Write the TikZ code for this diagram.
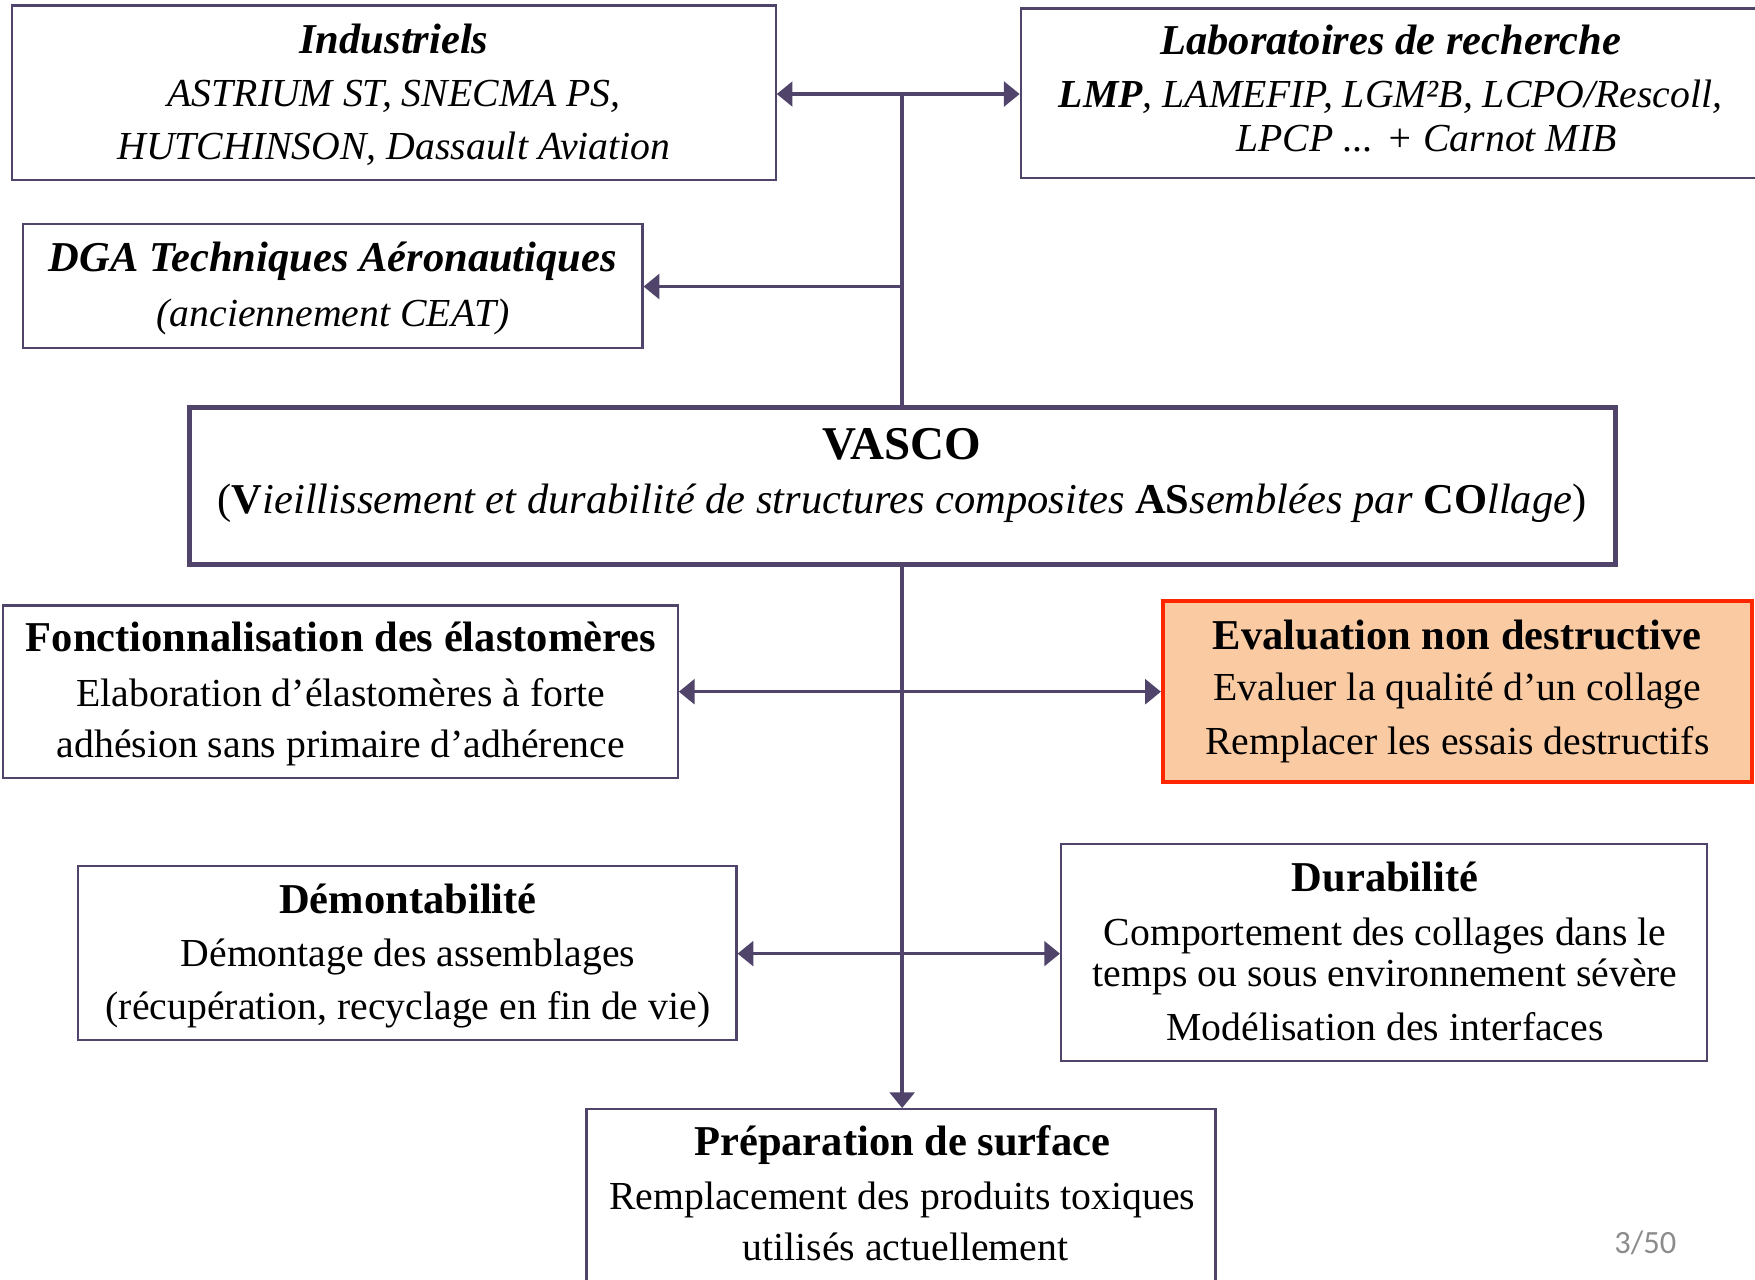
\documentclass[tikz,border=0pt]{standalone}
\usepackage{fontspec}
\setmainfont{Liberation Serif}
\newfontfamily\pagefont{Carlito}
\usetikzlibrary{arrows.meta}
\definecolor{linec}{HTML}{51446A}
\definecolor{evalred}{HTML}{FF2600}
\definecolor{evalfill}{HTML}{FACBA3}
\definecolor{pagegray}{HTML}{8C8C8C}
\newcommand{\ttlfont}{\fontsize{38}{45}\selectfont\bfseries}
\newcommand{\bodyfont}{\fontsize{35.5}{42}\selectfont}
\tikzset{
  box/.style={draw=linec, line width=2pt, inner sep=0pt, rectangle},
  mainbox/.style={draw=linec, line width=4.5pt, inner sep=0pt, rectangle},
  evalbox/.style={draw=evalred, fill=evalfill, line width=3.6pt, inner sep=0pt, rectangle},
  conn/.style={draw=linec, line width=3pt, -{Triangle[length=14pt,width=22pt]}},
  trunk/.style={draw=linec, line width=3pt},
  ttl/.style={anchor=base, inner sep=0pt, font=\ttlfont},
  ttlit/.style={anchor=base, inner sep=0pt, font=\ttlfont\itshape},
  txt/.style={anchor=base, inner sep=0pt, font=\bodyfont},
  txtit/.style={anchor=base, inner sep=0pt, font=\bodyfont\itshape},
}
\begin{document}
\begin{tikzpicture}[x=1pt,y=-1pt]
\useasboundingbox[fill=white] (0,0) rectangle (1568,1143);
% boxes
\node[box, minimum width=682pt, minimum height=156pt] (ind) at (352,83) {};
\node[box, minimum width=664pt, minimum height=151.5pt] (lab) at (1244,83.25) {};
\node[box, minimum width=553.5pt, minimum height=111pt] (dga) at (297.25,255.5) {};
\node[mainbox, minimum width=1274pt, minimum height=140pt] (vasco) at (806,434) {};
\node[box, minimum width=602.5pt, minimum height=154pt] (fonct) at (304.25,618) {};
\node[evalbox, minimum width=526pt, minimum height=162pt] (eval) at (1302,618) {};
\node[box, minimum width=588pt, minimum height=155pt] (demont) at (364,851.5) {};
\node[box, minimum width=577pt, minimum height=194pt] (durab) at (1236.5,851) {};
\node[box, minimum width=562pt, minimum height=169pt] (prep) at (805,1075.5) {};
% texts
\node[ttlit] (ind1) at (352,47.7) {Industriels};
\node[txtit] (ind2) at (352,95.3) {ASTRIUM ST, SNECMA PS,};
\node[txtit] (ind3) at (352,142.4) {HUTCHINSON, Dassault Aviation};
\node[ttlit] (lab1) at (1242.5,49) {Laboratoires de recherche};
\node[txtit] (lab2) at (1242.5,95.9) {\textbf{LMP}, LAMEFIP, LGM²B, LCPO/Rescoll,};
\node[txtit] (lab3) at (1274.5,135.5) {LPCP ... + Carnot MIB};
\node[ttlit] (dga1) at (297.5,242.7) {DGA Techniques Aéronautiques};
\node[txtit] (dga2) at (297.5,291.8) {(anciennement CEAT)};
\node[ttl, font=\fontsize{42}{48}\selectfont\bfseries] (vas1) at (806,410.4) {VASCO};
\node[txt, font=\fontsize{38}{45}\selectfont] (vas2) at (806,458.6) {(\textbf{V}\textit{ieillissement et durabilité de structures composites }\textbf{AS}\textit{semblées par }\textbf{CO}\textit{llage})};
\node[ttl] (fon1) at (304.5,582.2) {Fonctionnalisation des élastomères};
\node[txt] (fon2) at (304.5,630.8) {Elaboration d’élastomères à forte};
\node[txt] (fon3) at (304.5,676.9) {adhésion sans primaire d’adhérence};
\node[ttl] (eva1) at (1302,580.7) {Evaluation non destructive};
\node[txt] (eva2) at (1302,626) {Evaluer la qualité d’un collage};
\node[txt] (eva3) at (1302,674.5) {Remplacer les essais destructifs};
\node[ttl] (dem1) at (364.5,816) {Démontabilité};
\node[txt] (dem2) at (364.5,863.6) {Démontage des assemblages};
\node[txt] (dem3) at (364.5,911.3) {(récupération, recyclage en fin de vie)};
\node[ttl] (dur1) at (1237.5,796.6) {Durabilité};
\node[txt] (dur2) at (1237.5,844.3) {Comportement des collages dans le};
\node[txt] (dur3) at (1237.5,881.5) {temps ou sous environnement sévère};
\node[txt] (dur4) at (1237.5,929.2) {Modélisation des interfaces};
\node[ttl] (pre1) at (806,1032.8) {Préparation de surface};
\node[txt] (pre2) at (806,1080.4) {Remplacement des produits toxiques};
\node[txt] (pre3) at (809,1126.3) {utilisés actuellement};
\node[anchor=base, inner sep=0pt, font=\pagefont\fontsize{29}{34}\selectfont, text=pagegray] (page) at (1470,1120) {3/50};
% connectors
\coordinate (j1) at (806,84);
\coordinate (j2) at (806,256);
\coordinate (j3) at (806,618);
\coordinate (j4) at (806,852);
\draw[trunk] (j1) -- (vasco.north);
\draw[conn] (j1) -- (j1 -| ind.east);
\draw[conn] (j1) -- (j1 -| lab.west);
\draw[conn] (j2) -- (j2 -| dga.east);
\draw[conn] (vasco.south) -- (vasco.south |- prep.north);
\draw[conn] (j3) -- (j3 -| fonct.east);
\draw[conn] (j3) -- (j3 -| eval.west);
\draw[conn] (j4) -- (j4 -| demont.east);
\draw[conn] (j4) -- (j4 -| durab.west);
\end{tikzpicture}
\end{document}
